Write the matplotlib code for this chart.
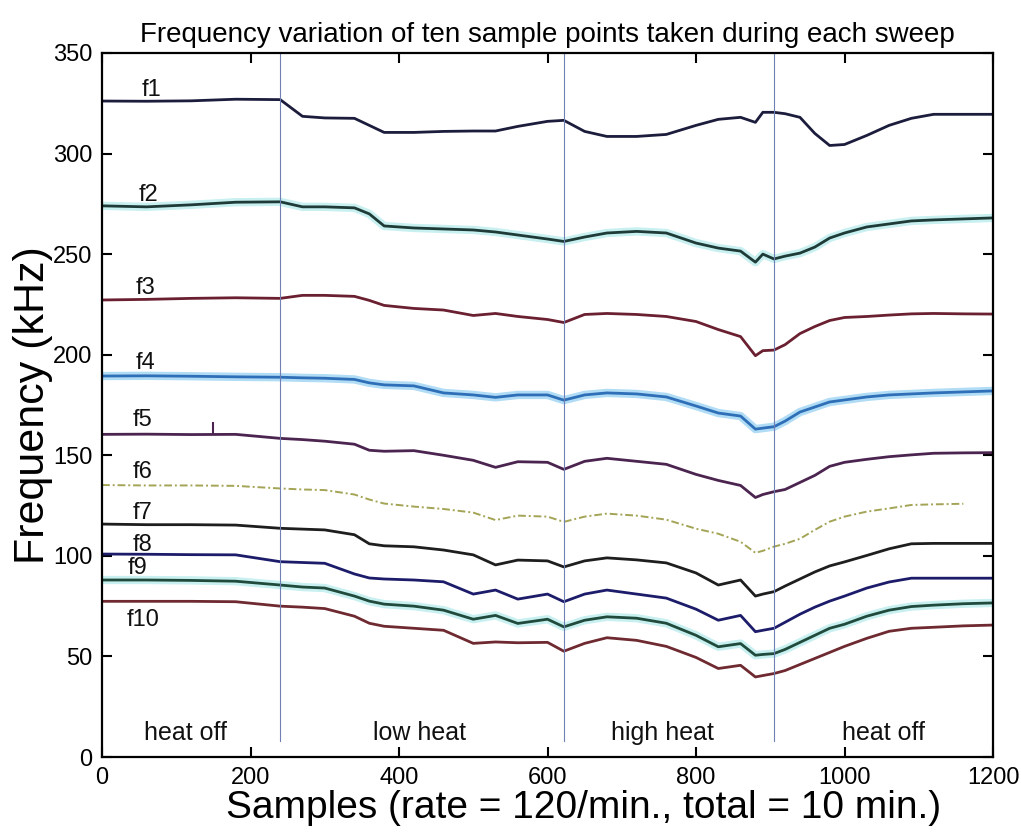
#Frequency variation of ten sample points over the heating sweep
import numpy as np
import matplotlib
matplotlib.use("Agg")
import matplotlib.pyplot as plt
import matplotlib.patheffects as pe

plt.rcParams['font.family'] = ['Liberation Sans', 'DejaVu Sans']

# sample positions used for the read-off values
Samples = [0, 60, 120, 180, 240, 270, 300, 340, 360, 380, 420, 460, 500, 530, 560,
           600, 622, 650, 680, 720, 760, 800, 830, 860, 880, 890, 905, 920, 940, 960,
           980, 1000, 1030, 1060, 1090, 1120, 1160, 1200]

f1 = [326.1, 326.0, 326.2, 327.0, 326.8, 318.5, 317.7, 317.5, 314.0, 310.5, 310.5, 311.0, 311.2, 311.2, 313.5,
      316.0, 316.5, 311.0, 308.5, 308.5, 309.5, 314.0, 317.0, 318.0, 315.5, 320.5, 320.5, 319.8, 318.0, 310.0,
      304.0, 304.5, 309.0, 314.0, 317.5, 319.5, 319.5, 319.5]
f2 = [274.0, 273.5, 274.5, 275.8, 276.0, 273.5, 273.5, 273.0, 270.0, 264.0, 263.0, 262.5, 262.0, 261.0, 259.5,
      257.5, 256.3, 258.5, 260.5, 261.3, 260.5, 255.5, 253.0, 251.5, 246.0, 250.0, 247.6, 249.0, 250.5, 253.5,
      258.0, 260.5, 263.5, 265.0, 266.5, 267.0, 267.5, 268.0]
f3 = [227.2, 227.5, 228.0, 228.3, 228.0, 229.5, 229.5, 229.0, 227.0, 224.5, 223.0, 222.2, 219.5, 220.5, 219.0,
      217.5, 216.0, 220.0, 220.5, 220.0, 219.0, 216.5, 212.5, 209.0, 199.5, 202.0, 202.3, 205.0, 210.5, 214.0,
      217.0, 218.5, 219.0, 219.7, 220.3, 220.5, 220.3, 220.2]
f4 = [189.4, 189.5, 189.3, 189.0, 188.8, 188.5, 188.3, 187.7, 186.0, 185.0, 184.5, 181.0, 180.0, 178.8, 180.0,
      180.0, 177.4, 180.0, 181.0, 180.5, 179.0, 174.5, 171.0, 169.5, 163.0, 163.5, 164.2, 167.0, 171.5, 174.0,
      176.5, 177.5, 179.0, 180.0, 180.5, 181.0, 181.5, 182.0]
f5 = [160.4, 160.5, 160.3, 160.4, 158.4, 157.8, 157.0, 155.5, 152.5, 152.0, 152.3, 150.0, 147.5, 144.0, 146.8,
      146.5, 143.0, 147.0, 148.5, 147.0, 145.5, 140.5, 137.5, 135.0, 129.0, 130.5, 131.9, 133.0, 136.5, 140.0,
      144.5, 146.5, 148.0, 149.3, 150.2, 151.0, 151.2, 151.3]
f6 = [135.2, 135.0, 135.0, 134.8, 133.5, 133.0, 132.7, 130.5, 128.0, 126.0, 124.5, 123.3, 121.5, 117.8, 120.0,
      119.5, 116.9, 119.5, 121.0, 120.0, 118.0, 113.5, 111.0, 107.0, 101.5, 102.5, 104.6, 106.0, 108.5, 112.9,
      117.0, 119.5, 122.0, 123.6, 125.3, 125.6, 125.9, np.nan]
f7 = [115.8, 115.5, 115.5, 115.3, 113.7, 113.3, 112.9, 110.5, 106.0, 105.0, 104.5, 102.9, 100.5, 95.5, 97.9,
      97.5, 94.5, 97.5, 99.0, 98.0, 96.5, 91.5, 85.5, 88.0, 80.0, 81.0, 82.2, 85.0, 88.5, 92.0,
      95.0, 97.0, 100.2, 103.5, 106.0, 106.2, 106.2, 106.2]
f8 = [100.9, 100.8, 100.6, 100.5, 97.1, 96.7, 96.3, 91.0, 89.0, 88.5, 88.0, 87.1, 81.0, 83.0, 78.5,
      81.0, 77.2, 81.0, 83.0, 81.0, 79.0, 73.5, 68.0, 70.4, 62.3, 63.0, 64.0, 67.0, 71.0, 74.5,
      77.5, 80.0, 84.0, 87.0, 88.9, 88.9, 88.9, 88.9]
f9 = [88.0, 88.0, 87.8, 87.4, 85.5, 84.5, 84.0, 80.0, 77.5, 76.0, 75.0, 73.0, 68.5, 70.4, 66.4,
      68.5, 64.7, 68.0, 69.7, 69.0, 66.5, 60.5, 54.8, 56.4, 50.6, 51.0, 51.4, 53.5, 57.0, 60.5,
      64.0, 66.0, 70.0, 73.0, 74.8, 75.5, 76.2, 76.6]
f10 = [77.4, 77.4, 77.4, 77.2, 75.0, 74.5, 73.8, 70.0, 66.5, 65.0, 64.0, 63.0, 56.5, 57.2, 56.8,
       57.0, 52.6, 56.5, 59.3, 58.0, 55.0, 49.5, 44.0, 45.6, 39.8, 40.5, 41.5, 43.0, 46.0, 49.0,
       52.0, 55.0, 59.0, 62.5, 64.0, 64.5, 65.2, 65.6]

Series = [f1, f2, f3, f4, f5, f6, f7, f8, f9, f10]
Names = ["f1", "f2", "f3", "f4", "f5", "f6", "f7", "f8", "f9", "f10"]
LabelX = [67, 62, 58, 58, 55, 55, 54, 54, 48, 55]
LabelY = [331.6, 279.4, 233.1, 195.8, 167.5, 141.6, 121.3, 105.3, 93.9, 68.0]

# f5 has a single glitch sample
SpikeX = 150
SpikeTop = 166.6

PhaseEdges = [240, 622, 905]
PhaseNames = ["heat off", "low heat", "high heat", "heat off"]
PhaseTextX = [112, 428, 755, 1052]

Colors = ['#1c1c3c', '#1e3b38', '#6a2030', '#2f6fb8', '#4b2450', '#a4a456', '#1e1e1e', '#1c1c6a', '#1f4a3c', '#6e2a30']
Halos = [None, '#c8f0f0', None, '#b0dcf5', None, None, None, None, '#c8f0f0', None]

fig = plt.figure(figsize=(10.21, 8.34), dpi=100)
ax = fig.add_axes([0.0999, 0.0923, 0.8727, 0.8442])

for i in range(len(Series)):
	kw = dict(color=Colors[i], lw=2.0)
	if Names[i] == "f6":
		kw['ls'] = (0, (4, 1.5, 1, 1.5))
		kw['lw'] = 1.4
	if Halos[i] is not None:
		kw['path_effects'] = [pe.Stroke(linewidth=6, foreground=Halos[i]), pe.Normal()]
	ax.plot(Samples, Series[i], **kw)
	ax.text(LabelX[i], LabelY[i], Names[i], fontsize=17, ha='center', va='center', color='#111111')

ax.vlines(SpikeX, f5[2], SpikeTop, color=Colors[4], lw=1.5)

for edge in PhaseEdges:
	ax.axvline(edge, ymin=8/350, ymax=1, color='#7080b4', lw=0.8)

for i in range(len(PhaseNames)):
	ax.text(PhaseTextX[i], 12, PhaseNames[i], fontsize=18, ha='center', va='center', color='#111111')

ax.set_xlim(0, 1200)
ax.set_ylim(0, 350)
ax.set_xticks(range(0, 1201, 200))
ax.set_yticks(range(0, 351, 50))
ax.tick_params(direction='in', length=7, width=1.5, top=True, right=True, labelsize=17, pad=7)
for s in ax.spines.values():
	s.set_linewidth(1.6)

ax.set_title("Frequency variation of ten sample points taken during each sweep", fontsize=20, pad=8)
ax.set_xlabel("Samples (rate = 120/min., total = 10 min.)", fontsize=28)
ax.xaxis.set_label_coords(0.54, -0.047)
ax.set_ylabel("Frequency (kHz)", fontsize=31, labelpad=0)

plt.savefig("out.png")
